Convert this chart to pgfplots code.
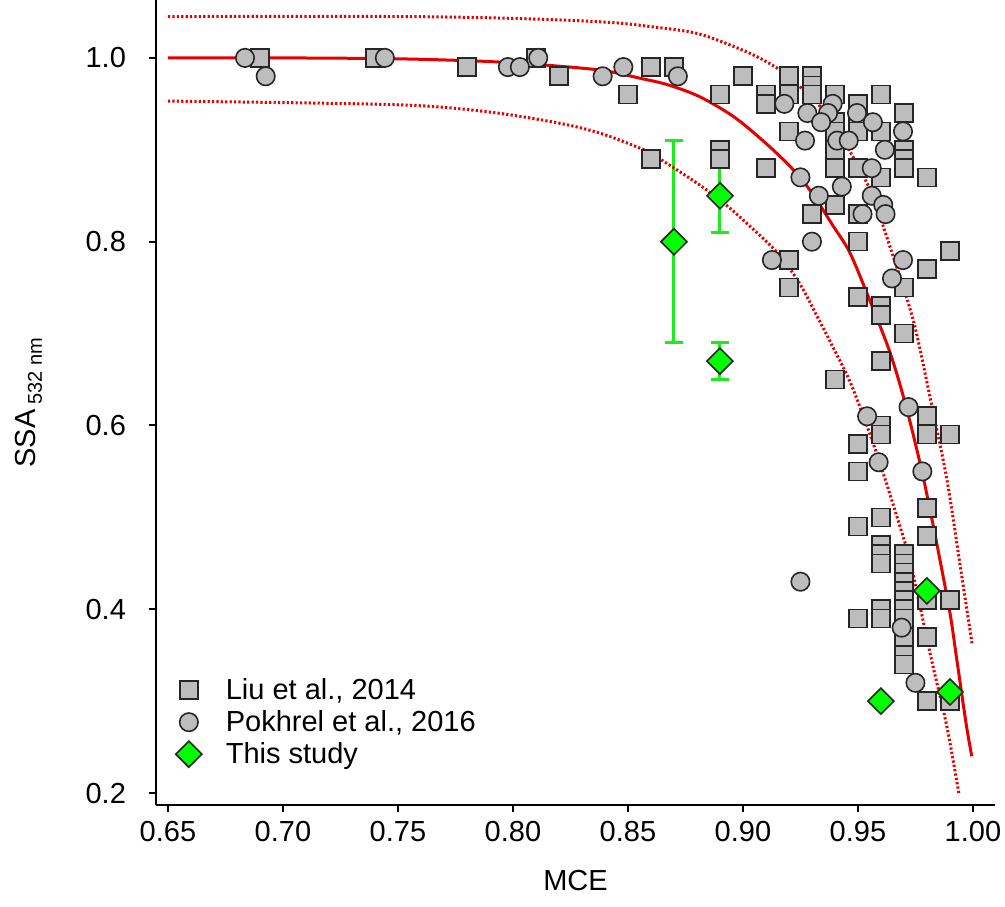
\documentclass[border=0pt]{standalone}
\usepackage{fontspec}
\setmainfont{Liberation Sans}
\usepackage{pgfplots}
\usepackage{pgfplotstable}
\pgfplotsset{compat=1.18}
\definecolor{mgray}{RGB}{189,189,189}
\definecolor{fitred}{RGB}{230,0,0}
\definecolor{lgreen}{RGB}{0,255,0}
\definecolor{ebgreen}{RGB}{30,235,30}

\pgfplotstableread{
x y
0.69 1.00
0.74 1.00
0.78 0.99
0.81 1.00
0.82 0.98
0.85 0.96
0.86 0.99
0.87 0.99
0.86 0.89
0.89 0.96
0.89 0.90
0.89 0.89
0.90 0.98
0.91 0.96
0.91 0.95
0.91 0.88
0.92 0.98
0.92 0.96
0.92 0.92
0.92 0.78
0.92 0.75
0.93 0.98
0.93 0.97
0.93 0.96
0.93 0.83
0.94 0.96
0.94 0.93
0.94 0.92
0.94 0.90
0.94 0.88
0.94 0.84
0.94 0.65
0.95 0.95
0.95 0.93
0.95 0.92
0.95 0.88
0.95 0.83
0.95 0.80
0.95 0.74
0.95 0.58
0.95 0.55
0.95 0.49
0.95 0.39
0.96 0.96
0.96 0.92
0.96 0.87
0.96 0.73
0.96 0.72
0.96 0.67
0.96 0.60
0.96 0.59
0.96 0.50
0.96 0.47
0.96 0.46
0.96 0.45
0.96 0.40
0.96 0.39
0.97 0.94
0.97 0.90
0.97 0.89
0.97 0.88
0.97 0.75
0.97 0.70
0.97 0.46
0.97 0.45
0.97 0.44
0.97 0.43
0.97 0.42
0.97 0.41
0.97 0.40
0.97 0.39
0.97 0.37
0.97 0.35
0.97 0.34
0.98 0.87
0.98 0.77
0.98 0.61
0.98 0.59
0.98 0.51
0.98 0.48
0.98 0.41
0.98 0.37
0.98 0.30
0.99 0.79
0.99 0.59
0.99 0.41
0.99 0.30
}\liu

\pgfplotstableread{
x y
0.6835 1.00
0.6925 0.98
0.7443 1.00
0.7978 0.99
0.8030 0.99
0.8110 1.00
0.8390 0.98
0.8480 0.99
0.8717 0.98
0.9180 0.95
0.9280 0.94
0.9390 0.95
0.9370 0.94
0.9340 0.93
0.9496 0.94
0.9565 0.93
0.9696 0.92
0.9270 0.91
0.9410 0.91
0.9460 0.91
0.9617 0.90
0.9560 0.88
0.9250 0.87
0.9430 0.86
0.9330 0.85
0.9560 0.85
0.9610 0.84
0.9520 0.83
0.9620 0.83
0.9300 0.80
0.9126 0.78
0.9696 0.78
0.9648 0.76
0.9720 0.62
0.9540 0.61
0.9590 0.56
0.9780 0.55
0.9250 0.43
0.9690 0.38
0.9750 0.32
}\pokhrel

\pgfplotstableread{
x y ey
0.87 0.80 0.11
0.89 0.85 0.04
0.89 0.67 0.02
0.96 0.30 0.0
0.98 0.42 0.0
0.99 0.31 0.0
}\thisstudy

\pgfplotstableread{
x y
0.650 1.000
0.700 1.000
0.750 0.999
0.790 0.996
0.820 0.991
0.840 0.986
0.855 0.978
0.867 0.971
0.881 0.958
0.896 0.936
0.910 0.907
0.922 0.878
0.930 0.853
0.939 0.818
0.9465 0.788
0.955 0.737
0.964 0.679
0.971 0.620
0.978 0.548
0.984 0.475
0.990 0.396
0.993 0.345
0.997 0.276
0.9995 0.240
}\fitmid

\pgfplotstableread{
x y
0.650 1.045
0.750 1.045
0.800 1.043
0.840 1.039
0.860 1.034
0.881 1.026
0.903 1.005
0.916 0.987
0.925 0.968
0.935 0.943
0.9435 0.911
0.951 0.878
0.9565 0.849
0.964 0.794
0.974 0.715
0.981 0.635
0.9887 0.541
0.9943 0.450
0.9996 0.363
}\fitup

\pgfplotstableread{
x y
0.650 0.953
0.750 0.949
0.790 0.941
0.820 0.929
0.838 0.918
0.855 0.902
0.862 0.893
0.881 0.862
0.895 0.835
0.915 0.788
0.925 0.753
0.932 0.720
0.939 0.686
0.9465 0.648
0.954 0.599
0.961 0.548
0.971 0.468
0.974 0.438
0.982 0.345
0.9887 0.272
0.994 0.198
}\fitlow

\begin{document}
\begin{tikzpicture}
\begin{axis}[
  name=ax,
  scale only axis,
  width=419.5pt, height=402.5pt,
  xmin=0.6448, xmax=1.0096,
  ymin=0.187, ymax=1.063,
  axis x line*=bottom, axis y line*=left,
  axis line style={line width=1pt, black},
  tick align=outside,
  major tick length=3.5pt,
  every tick/.style={line width=1pt, black},
  xtick={0.65,0.70,...,1.00},
  ytick={0.2,0.4,0.6,0.8,1.0},
  minor tick num=0,
  /pgf/number format/assume math mode=true,
  tick label style={font=\fontsize{14.5}{17}\selectfont},
  xticklabel style={yshift=-1pt, /pgf/number format/.cd, fixed, fixed zerofill, precision=2},
  yticklabel style={xshift=-8pt, /pgf/number format/.cd, fixed, fixed zerofill, precision=1},
  xlabel={MCE},
  ylabel={SSA\kern2.5pt\raisebox{-0.45ex}{\fontsize{10}{12}\selectfont 532 nm}},
  label style={font=\fontsize{14.5}{17}\selectfont},
  xlabel style={at={(axis description cs:0.5,-0.0932)}, anchor=center},
  ylabel style={at={(axis description cs:-0.152,0.5)}, anchor=center},
  legend style={draw=none, fill=none, at={(0.016,0.168)}, anchor=north west,
    font=\fontsize{14.5}{17}\selectfont, row sep=0pt, column sep=10pt},
  legend cell align=left,
]
\addplot[only marks, mark=square*, mark size=4.5pt,
  mark options={fill=mgray, draw=black!85, line width=0.8pt}] table[x=x,y=y] {\liu};
\addlegendentry{Liu et al., 2014}
\addplot[only marks, mark=*, mark size=4.6pt,
  mark options={fill=mgray, draw=black!85, line width=0.8pt}] table[x=x,y=y] {\pokhrel};
\addlegendentry{Pokhrel et al., 2016}
\addplot[only marks, mark=square*, mark size=4.6pt,
  mark options={rotate=45, fill=lgreen, draw=black!85, line width=0.8pt},
  error bars/.cd, y dir=both, y explicit,
  error bar style={ebgreen, line width=1.5pt},
  error mark options={rotate=90, mark size=4.5pt, ebgreen, line width=1.5pt}]
  table[x=x,y=y,y error=ey] {\thisstudy};
\addlegendentry{This study}
\addplot[forget plot, fitred, line width=1.5pt, smooth] table[x=x,y=y] {\fitmid};
\addplot[forget plot, fitred, line width=1.5pt, dash pattern=on 1.1pt off 1.1pt, smooth] table[x=x,y=y] {\fitup};
\addplot[forget plot, fitred, line width=1.5pt, dash pattern=on 1.1pt off 1.1pt, smooth] table[x=x,y=y] {\fitlow};
\end{axis}
\pgfresetboundingbox
\path ([shift={(-78pt,-50.5pt)}]ax.south west) rectangle ([shift={(5pt,0pt)}]ax.north east);
\end{tikzpicture}
\end{document}
